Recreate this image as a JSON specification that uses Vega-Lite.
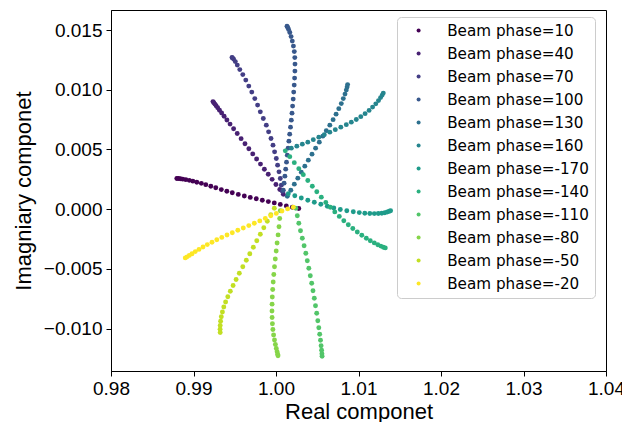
{
  "$schema": "https://vega.github.io/schema/vega-lite/v6.json",
  "autosize": {"type": "none"},
  "padding": {"left": 111, "top": 10, "right": 16, "bottom": 51},
  "width": 495,
  "height": 361,
  "background": "white",
  "config": {"view": {"stroke": "black", "strokeWidth": 1}},
  "data": {"values": [
    {"p":"10","x":1.00276,"y":0.000059},{"p":"10","x":1.00198,"y":0.000168},{"p":"10","x":1.00125,"y":0.000277},{"p":"10","x":1.00052,"y":0.000402},{"p":"10","x":0.99979,"y":0.000528},{"p":"10","x":0.99907,"y":0.000637},{"p":"10","x":0.99834,"y":0.000754},{"p":"10","x":0.99761,"y":0.00088},{"p":"10","x":0.99688,"y":0.000989},{"p":"10","x":0.99616,"y":0.001106},{"p":"10","x":0.99543,"y":0.00124},{"p":"10","x":0.9947,"y":0.001374},{"p":"10","x":0.99404,"y":0.001508},{"p":"10","x":0.99337,"y":0.001642},{"p":"10","x":0.9927,"y":0.001793},{"p":"10","x":0.9921,"y":0.001927},{"p":"10","x":0.99149,"y":0.002053},{"p":"10","x":0.99095,"y":0.002162},{"p":"10","x":0.9904,"y":0.002262},{"p":"10","x":0.98992,"y":0.002346},{"p":"10","x":0.98949,"y":0.002413},{"p":"10","x":0.98907,"y":0.002472},{"p":"10","x":0.9887,"y":0.002514},{"p":"10","x":0.9884,"y":0.002547},{"p":"10","x":0.98816,"y":0.002564},{"p":"10","x":0.98798,"y":0.002572},
    {"p":"40","x":0.99236,"y":0.009008},{"p":"40","x":0.99246,"y":0.008915},{"p":"40","x":0.99259,"y":0.008799},{"p":"40","x":0.99274,"y":0.008659},{"p":"40","x":0.99293,"y":0.008489},{"p":"40","x":0.99315,"y":0.008287},{"p":"40","x":0.99341,"y":0.008055},{"p":"40","x":0.99371,"y":0.007783},{"p":"40","x":0.99405,"y":0.007473},{"p":"40","x":0.99443,"y":0.007125},{"p":"40","x":0.99486,"y":0.006737},{"p":"40","x":0.9953,"y":0.006334},{"p":"40","x":0.99577,"y":0.005908},{"p":"40","x":0.99624,"y":0.005481},{"p":"40","x":0.99671,"y":0.005055},{"p":"40","x":0.99718,"y":0.004629},{"p":"40","x":0.99765,"y":0.004202},{"p":"40","x":0.99812,"y":0.003776},{"p":"40","x":0.99859,"y":0.00335},{"p":"40","x":0.99906,"y":0.002923},{"p":"40","x":0.99953,"y":0.002497},{"p":"40","x":0.99999,"y":0.002071},{"p":"40","x":1.00046,"y":0.001645},{"p":"40","x":1.00089,"y":0.001257},
    {"p":"70","x":1.000764,"y":0.001508},{"p":"70","x":1.000642,"y":0.002011},{"p":"70","x":1.000521,"y":0.002572},{"p":"70","x":1.000364,"y":0.003126},{"p":"70","x":1.000194,"y":0.003687},{"p":"70","x":1.000036,"y":0.004248},{"p":"70","x":0.99983,"y":0.004801},{"p":"70","x":0.999636,"y":0.005363},{"p":"70","x":0.999394,"y":0.005924},{"p":"70","x":0.999103,"y":0.006477},{"p":"70","x":0.998824,"y":0.007039},{"p":"70","x":0.998461,"y":0.0076},{"p":"70","x":0.998097,"y":0.008153},{"p":"70","x":0.99777,"y":0.008715},{"p":"70","x":0.99743,"y":0.009259},{"p":"70","x":0.997067,"y":0.009804},{"p":"70","x":0.996703,"y":0.010307},{"p":"70","x":0.99634,"y":0.010809},{"p":"70","x":0.995976,"y":0.01127},{"p":"70","x":0.995612,"y":0.011689},{"p":"70","x":0.995309,"y":0.012066},{"p":"70","x":0.995067,"y":0.01236},{"p":"70","x":0.994861,"y":0.012569},{"p":"70","x":0.994727,"y":0.01267},{"p":"70","x":0.994667,"y":0.012711},
    {"p":"100","x":1.000885,"y":0.001592},{"p":"100","x":1.000982,"y":0.002179},{"p":"100","x":1.001079,"y":0.002765},{"p":"100","x":1.001176,"y":0.003352},{"p":"100","x":1.001273,"y":0.003938},{"p":"100","x":1.00137,"y":0.004525},{"p":"100","x":1.001467,"y":0.005111},{"p":"100","x":1.001564,"y":0.005698},{"p":"100","x":1.001661,"y":0.006285},{"p":"100","x":1.001758,"y":0.006871},{"p":"100","x":1.001855,"y":0.007458},{"p":"100","x":1.001939,"y":0.008044},{"p":"100","x":1.002012,"y":0.008631},{"p":"100","x":1.002085,"y":0.009217},{"p":"100","x":1.002145,"y":0.009804},{"p":"100","x":1.002206,"y":0.010391},{"p":"100","x":1.002255,"y":0.010977},{"p":"100","x":1.002291,"y":0.011564},{"p":"100","x":1.002303,"y":0.01215},{"p":"100","x":1.002279,"y":0.012695},{"p":"100","x":1.002218,"y":0.013198},{"p":"100","x":1.002109,"y":0.013658},{"p":"100","x":1.001976,"y":0.014077},{"p":"100","x":1.00183,"y":0.014454},{"p":"100","x":1.001673,"y":0.01479},{"p":"100","x":1.001527,"y":0.015041},{"p":"100","x":1.001418,"y":0.015209},{"p":"100","x":1.001333,"y":0.015318},
    {"p":"130","x":1.00137,"y":0.001089},{"p":"130","x":1.001794,"y":0.001592},{"p":"130","x":1.002218,"y":0.002095},{"p":"130","x":1.002642,"y":0.002598},{"p":"130","x":1.003067,"y":0.0031},{"p":"130","x":1.003491,"y":0.003603},{"p":"130","x":1.003915,"y":0.004106},{"p":"130","x":1.004364,"y":0.004609},{"p":"130","x":1.0048,"y":0.005111},{"p":"130","x":1.005248,"y":0.005614},{"p":"130","x":1.005673,"y":0.006117},{"p":"130","x":1.006097,"y":0.006578},{"p":"130","x":1.006521,"y":0.007039},{"p":"130","x":1.006921,"y":0.0075},{"p":"130","x":1.007285,"y":0.00796},{"p":"130","x":1.007612,"y":0.008421},{"p":"130","x":1.007915,"y":0.00884},{"p":"130","x":1.008158,"y":0.009259},{"p":"130","x":1.008364,"y":0.009636},{"p":"130","x":1.008521,"y":0.009971},{"p":"130","x":1.008618,"y":0.010223},{"p":"130","x":1.008679,"y":0.010432},
    {"p":"160","x":1.001855,"y":0.005111},{"p":"160","x":1.002521,"y":0.005279},{"p":"160","x":1.003188,"y":0.005447},{"p":"160","x":1.003855,"y":0.005614},{"p":"160","x":1.004521,"y":0.005824},{"p":"160","x":1.005188,"y":0.006033},{"p":"160","x":1.005855,"y":0.006243},{"p":"160","x":1.006521,"y":0.006452},{"p":"160","x":1.007188,"y":0.006662},{"p":"160","x":1.007855,"y":0.006871},{"p":"160","x":1.008521,"y":0.007081},{"p":"160","x":1.009127,"y":0.00729},{"p":"160","x":1.009733,"y":0.007516},{"p":"160","x":1.010279,"y":0.007751},{"p":"160","x":1.0108,"y":0.008002},{"p":"160","x":1.011285,"y":0.008271},{"p":"160","x":1.011709,"y":0.008547},{"p":"160","x":1.012097,"y":0.008823},{"p":"160","x":1.012424,"y":0.009092},{"p":"160","x":1.012679,"y":0.009343},{"p":"160","x":1.012873,"y":0.009553},{"p":"160","x":1.013006,"y":0.00972},
    {"p":"-170","x":1.001491,"y":0.001299},{"p":"-170","x":1.002279,"y":0.001131},{"p":"-170","x":1.003067,"y":0.000938},{"p":"-170","x":1.003855,"y":0.000754},{"p":"-170","x":1.004642,"y":0.000587},{"p":"-170","x":1.00543,"y":0.000419},{"p":"-170","x":1.006218,"y":0.000251},{"p":"-170","x":1.007006,"y":0.000101},{"p":"-170","x":1.007794,"y":-0.000025},{"p":"-170","x":1.008582,"y":-0.000126},{"p":"-170","x":1.00937,"y":-0.000218},{"p":"-170","x":1.010097,"y":-0.000285},{"p":"-170","x":1.010764,"y":-0.000335},{"p":"-170","x":1.01137,"y":-0.00036},{"p":"-170","x":1.011915,"y":-0.000369},{"p":"-170","x":1.0124,"y":-0.00036},{"p":"-170","x":1.012824,"y":-0.000335},{"p":"-170","x":1.013188,"y":-0.000293},{"p":"-170","x":1.013491,"y":-0.000235},{"p":"-170","x":1.013733,"y":-0.000176},{"p":"-170","x":1.013891,"y":-0.000134},
    {"p":"-140","x":1.001127,"y":0.004885},{"p":"-140","x":1.001673,"y":0.004399},{"p":"-140","x":1.002218,"y":0.003896},{"p":"-140","x":1.002764,"y":0.003394},{"p":"-140","x":1.003309,"y":0.002891},{"p":"-140","x":1.003855,"y":0.002405},{"p":"-140","x":1.0044,"y":0.001927},{"p":"-140","x":1.004945,"y":0.001466},{"p":"-140","x":1.005491,"y":0.001006},{"p":"-140","x":1.006036,"y":0.00057},{"p":"-140","x":1.006582,"y":0.000168},{"p":"-140","x":1.007127,"y":-0.000226},{"p":"-140","x":1.007673,"y":-0.000603},{"p":"-140","x":1.008218,"y":-0.000964},{"p":"-140","x":1.008764,"y":-0.001299},{"p":"-140","x":1.009309,"y":-0.001617},{"p":"-140","x":1.009855,"y":-0.001911},{"p":"-140","x":1.0104,"y":-0.002179},{"p":"-140","x":1.010945,"y":-0.00243},{"p":"-140","x":1.01143,"y":-0.00264},{"p":"-140","x":1.011915,"y":-0.002824},{"p":"-140","x":1.012339,"y":-0.002975},{"p":"-140","x":1.012703,"y":-0.003092},{"p":"-140","x":1.013006,"y":-0.003184},{"p":"-140","x":1.013248,"y":-0.003243},
    {"p":"-110","x":1.0024,"y":0.000084},{"p":"-110","x":1.002582,"y":-0.000545},{"p":"-110","x":1.002764,"y":-0.001173},{"p":"-110","x":1.00297,"y":-0.001802},{"p":"-110","x":1.003188,"y":-0.00243},{"p":"-110","x":1.003406,"y":-0.003058},{"p":"-110","x":1.003612,"y":-0.003687},{"p":"-110","x":1.003794,"y":-0.004315},{"p":"-110","x":1.003976,"y":-0.004944},{"p":"-110","x":1.004158,"y":-0.005572},{"p":"-110","x":1.004327,"y":-0.006201},{"p":"-110","x":1.004485,"y":-0.006829},{"p":"-110","x":1.004642,"y":-0.007458},{"p":"-110","x":1.004788,"y":-0.008086},{"p":"-110","x":1.004933,"y":-0.008715},{"p":"-110","x":1.005067,"y":-0.009343},{"p":"-110","x":1.005188,"y":-0.009929},{"p":"-110","x":1.005297,"y":-0.010474},{"p":"-110","x":1.005394,"y":-0.010977},{"p":"-110","x":1.005467,"y":-0.011438},{"p":"-110","x":1.005527,"y":-0.011815},{"p":"-110","x":1.005564,"y":-0.012108},{"p":"-110","x":1.005588,"y":-0.012318},
    {"p":"-80","x":1.000521,"y":-0.000126},{"p":"-80","x":1.000448,"y":-0.000779},{"p":"-80","x":1.000364,"y":-0.001466},{"p":"-80","x":1.000255,"y":-0.002154},{"p":"-80","x":1.000133,"y":-0.002832},{"p":"-80","x":1.000024,"y":-0.003503},{"p":"-80","x":0.999915,"y":-0.004165},{"p":"-80","x":0.999818,"y":-0.004818},{"p":"-80","x":0.999733,"y":-0.005463},{"p":"-80","x":0.999661,"y":-0.0061},{"p":"-80","x":0.9996,"y":-0.006729},{"p":"-80","x":0.999552,"y":-0.007349},{"p":"-80","x":0.999527,"y":-0.007952},{"p":"-80","x":0.999515,"y":-0.00853},{"p":"-80","x":0.999527,"y":-0.009075},{"p":"-80","x":0.999564,"y":-0.009594},{"p":"-80","x":0.999624,"y":-0.01008},{"p":"-80","x":0.999709,"y":-0.010541},{"p":"-80","x":0.999818,"y":-0.01096},{"p":"-80","x":0.999927,"y":-0.011337},{"p":"-80","x":1.000036,"y":-0.011664},{"p":"-80","x":1.000133,"y":-0.011941},{"p":"-80","x":1.000206,"y":-0.01215},{"p":"-80","x":1.000242,"y":-0.012276},
    {"p":"-50","x":0.999794,"y":0.000084},{"p":"-50","x":0.99937,"y":-0.000461},{"p":"-50","x":0.998945,"y":-0.001006},{"p":"-50","x":0.998521,"y":-0.00155},{"p":"-50","x":0.998097,"y":-0.002095},{"p":"-50","x":0.997673,"y":-0.00264},{"p":"-50","x":0.997248,"y":-0.003184},{"p":"-50","x":0.996824,"y":-0.003729},{"p":"-50","x":0.9964,"y":-0.004274},{"p":"-50","x":0.995976,"y":-0.004818},{"p":"-50","x":0.995552,"y":-0.005363},{"p":"-50","x":0.995164,"y":-0.005891},{"p":"-50","x":0.9948,"y":-0.006394},{"p":"-50","x":0.994461,"y":-0.006871},{"p":"-50","x":0.994158,"y":-0.007332},{"p":"-50","x":0.993891,"y":-0.007768},{"p":"-50","x":0.993673,"y":-0.008195},{"p":"-50","x":0.993503,"y":-0.008606},{"p":"-50","x":0.99337,"y":-0.009008},{"p":"-50","x":0.993285,"y":-0.009385},{"p":"-50","x":0.993236,"y":-0.009745},{"p":"-50","x":0.993224,"y":-0.010055},{"p":"-50","x":0.993236,"y":-0.010332},
    {"p":"-20","x":1.002097,"y":0.000168},{"p":"-20","x":1.001406,"y":0.000025},{"p":"-20","x":1.000727,"y":-0.000151},{"p":"-20","x":1.000036,"y":-0.000352},{"p":"-20","x":0.99937,"y":-0.000553},{"p":"-20","x":0.998703,"y":-0.000771},{"p":"-20","x":0.998036,"y":-0.00098},{"p":"-20","x":0.99737,"y":-0.001173},{"p":"-20","x":0.996703,"y":-0.001374},{"p":"-20","x":0.996036,"y":-0.001575},{"p":"-20","x":0.99537,"y":-0.001768},{"p":"-20","x":0.994703,"y":-0.001969},{"p":"-20","x":0.994061,"y":-0.002162},{"p":"-20","x":0.99343,"y":-0.002363},{"p":"-20","x":0.992824,"y":-0.002564},{"p":"-20","x":0.992242,"y":-0.002765},{"p":"-20","x":0.991673,"y":-0.002966},{"p":"-20","x":0.991152,"y":-0.003167},{"p":"-20","x":0.990667,"y":-0.003369},{"p":"-20","x":0.990218,"y":-0.003553},{"p":"-20","x":0.989818,"y":-0.003729},{"p":"-20","x":0.989491,"y":-0.003871},{"p":"-20","x":0.989224,"y":-0.003989},{"p":"-20","x":0.989006,"y":-0.004081}
  ]},
  "mark": {"type": "point", "filled": true, "size": 24, "opacity": 1},
  "encoding": {
    "x": {
      "field": "x", "type": "quantitative",
      "scale": {"domain": [0.98, 1.04], "nice": false, "zero": false},
      "axis": {
        "title": "Real componet", "values": [0.98, 0.99, 1.0, 1.01, 1.02, 1.03, 1.04], "format": ".2f",
        "grid": false, "domainColor": "black", "tickColor": "black", "tickSize": 5,
        "labelFont": "Liberation Sans", "labelFontSize": 19, "labelColor": "black", "labelPadding": 3,
        "labelFlush": false, "labelOverlap": false,
        "titleFont": "Liberation Sans", "titleFontSize": 22, "titleFontWeight": "normal", "titleColor": "black", "titlePadding": 3
      }
    },
    "y": {
      "field": "y", "type": "quantitative",
      "scale": {"domain": [-0.01355, 0.01668], "nice": false, "zero": false},
      "axis": {
        "title": "Imagniary componet", "values": [-0.01, -0.005, 0, 0.005, 0.01, 0.015], "format": ".3f",
        "grid": false, "domainColor": "black", "tickColor": "black", "tickSize": 5,
        "labelFont": "Liberation Sans", "labelFontSize": 19, "labelColor": "black", "labelPadding": 4,
        "labelFlush": false, "labelOverlap": false,
        "titleFont": "Liberation Sans", "titleFontSize": 22, "titleFontWeight": "normal", "titleColor": "black", "titlePadding": 8
      }
    },
    "color": {
      "field": "p", "type": "nominal",
      "scale": {
        "domain": ["10", "40", "70", "100", "130", "160", "-170", "-140", "-110", "-80", "-50", "-20"],
        "range": ["#440154", "#482173", "#433e85", "#38588c", "#2d708e", "#25858e", "#1e9b8a", "#2ab07f", "#52c569", "#86d549", "#c2df23", "#fde725"]
      },
      "legend": {
        "title": null, "orient": "none", "legendX": 286, "legendY": 7,
        "labelExpr": "'Beam phase=' + datum.label",
        "fillColor": "white", "strokeColor": "#cccccc", "cornerRadius": 4, "padding": 6,
        "labelFont": "DejaVu Sans", "labelFontSize": 15.2, "labelColor": "black",
        "symbolType": "circle", "symbolSize": 16, "symbolStrokeWidth": 0, "symbolOpacity": 1,
        "rowPadding": 7, "symbolOffset": 8, "labelOffset": 21, "labelLimit": 300
      }
    }
  }
}
